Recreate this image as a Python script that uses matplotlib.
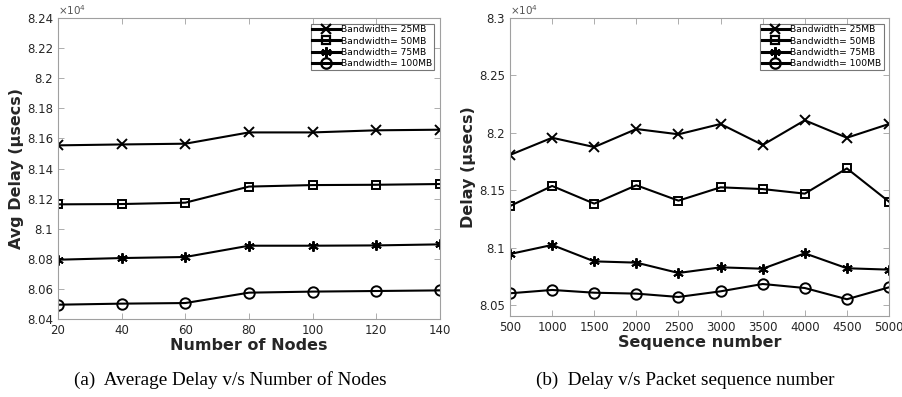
import matplotlib.pyplot as plt
from matplotlib.ticker import FuncFormatter
from matplotlib.lines import Line2D

# values in units of 1e4 usecs, as shown on the axes
nodes = [20, 40, 60, 80, 100, 120, 140]
avg_25 = [8.1554, 8.1560, 8.1565, 8.1640, 8.1640, 8.1654, 8.1658]
avg_50 = [8.1162, 8.1164, 8.1173, 8.1280, 8.1290, 8.1292, 8.1297]
avg_75 = [8.0794, 8.0805, 8.0812, 8.0887, 8.0887, 8.0889, 8.0896]
avg_100 = [8.0495, 8.0502, 8.0506, 8.0575, 8.0582, 8.0586, 8.0590]

seq = [500, 1000, 1500, 2000, 2500, 3000, 3500, 4000, 4500, 5000]
seq_25 = [8.1807, 8.1957, 8.1876, 8.2033, 8.1987, 8.2077, 8.1894, 8.2109, 8.1957, 8.2077]
seq_50 = [8.1362, 8.1537, 8.1383, 8.1543, 8.1409, 8.1525, 8.1510, 8.1470, 8.1690, 8.1400]
seq_75 = [8.0944, 8.1023, 8.0880, 8.0869, 8.0779, 8.0828, 8.0816, 8.0950, 8.0820, 8.0808]
seq_100 = [8.0602, 8.0631, 8.0607, 8.0599, 8.0570, 8.0619, 8.0683, 8.0648, 8.0550, 8.0654]

labels = ["Bandwidth= 25MB", "Bandwidth= 50MB", "Bandwidth= 75MB", "Bandwidth= 100MB"]
markers = ["x", "s", (6, 2, 0), "o"]
msizes = [6.5, 5.5, 7.5, 7.5]

tick_col = "#262626"
box_col = "#a0a0a0"


def style_axes(ax, xticks, yticks, xlim, ylim, xlabel, ylabel):
    ax.set_xlim(xlim)
    ax.set_ylim(ylim)
    ax.set_xticks(xticks)
    ax.set_yticks(yticks)
    ax.yaxis.set_major_formatter(FuncFormatter(lambda v, p: "%g" % round(v, 4)))
    ax.tick_params(direction="in", top=True, right=True, labelsize=8.5,
                   colors=tick_col, length=4, width=0.6, color=box_col)
    for s in ax.spines.values():
        s.set_color(box_col)
        s.set_linewidth(0.8)
    ax.set_xlabel(xlabel, fontsize=11.5, fontweight="bold", color=tick_col, labelpad=1)
    ax.set_ylabel(ylabel, fontsize=11.5, fontweight="bold", color=tick_col, labelpad=2)
    ax.text(0, 1.005, r"$\times10^4$", transform=ax.transAxes, fontsize=7.5,
            color="#555555", va="bottom", ha="left")
    handles = [Line2D([], [], color="black", lw=2.2, marker=m, ms=ms,
                      mfc="none", mew=1.6) for m, ms in zip(markers, msizes)]
    leg = ax.legend(handles, labels, loc="upper right", fontsize=6.6,
                    frameon=True, fancybox=False, borderpad=0.2, labelspacing=0.25,
                    handlelength=3.0, handletextpad=0.15, borderaxespad=0.6)
    leg.get_frame().set_edgecolor("#555555")
    leg.get_frame().set_linewidth(0.8)


fig = plt.figure(figsize=(9.03, 3.97), dpi=100)
ax1 = fig.add_axes([0.0642, 0.1965, 0.423, 0.758])
ax2 = fig.add_axes([0.5648, 0.204, 0.4197, 0.7506])

for ys, m, ms in zip([avg_25, avg_50, avg_75, avg_100], markers, msizes):
    ax1.plot(nodes, ys, color="black", lw=1.5, marker=m, ms=ms, mfc="none", mew=1.4)
for ys, m, ms in zip([seq_25, seq_50, seq_75, seq_100], markers, msizes):
    ax2.plot(seq, ys, color="black", lw=1.5, marker=m, ms=ms, mfc="none", mew=1.4)

style_axes(ax1, nodes, [8.04 + 0.02 * i for i in range(11)], (20, 140), (8.04, 8.24),
           "Number of Nodes", "Avg Delay (µsecs)")
style_axes(ax2, seq, [8.05 + 0.05 * i for i in range(6)], (500, 5000), (8.0404, 8.3),
           "Sequence number", "Delay (µsecs)")

fig.text(0.255, 0.043, "(a)  Average Delay v/s Number of Nodes", family="Liberation Serif",
         fontsize=13.8, ha="center", va="center")
fig.text(0.759, 0.043, "(b)  Delay v/s Packet sequence number", family="Liberation Serif",
         fontsize=13.8, ha="center", va="center")

fig.savefig("out.png", dpi=100)
